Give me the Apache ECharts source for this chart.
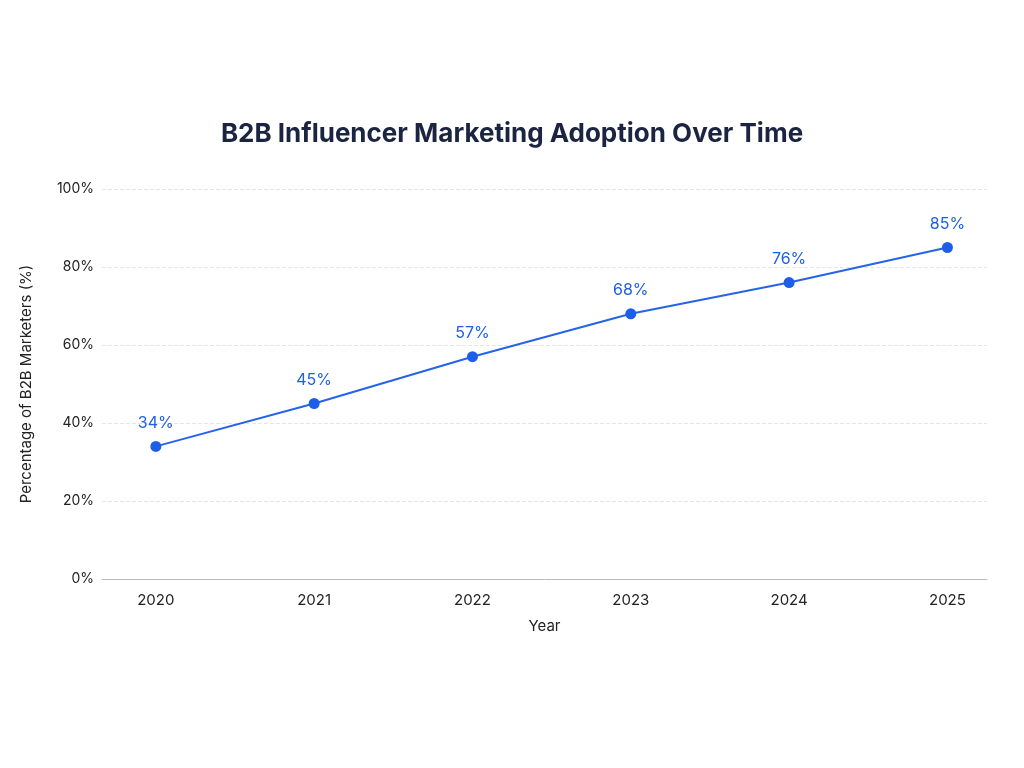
<!DOCTYPE html>
<html>
<head>
<meta charset="utf-8">
<script src="https://cdn.jsdelivr.net/npm/echarts@6/dist/echarts.min.js"></script>
<style>html,body{margin:0;background:#fff}#main{width:1024px;height:768px}</style>
</head>
<body>
<div id="main"></div>
<script>
var years = [2020, 2021, 2022, 2023, 2024, 2025];
var adoption = [34, 45, 57, 68, 76, 85];
var yTicks = [0, 20, 40, 60, 80, 100];

var chart = echarts.init(document.getElementById('main'));
chart.setOption({
    backgroundColor: '#ffffff',
    animation: false,
    textStyle: { fontFamily: 'Inter, "Noto Sans", sans-serif' },
    title: {
        text: 'B2B Influencer Marketing Adoption Over Time',
        left: 'center',
        top: 116,
        textStyle: { fontSize: 26, fontWeight: 'bold', color: '#1b2440', fontFamily: 'Inter, sans-serif' }
    },
    grid: { left: 102, right: 37, top: 189, bottom: 189 },
    xAxis: {
        type: 'value',
        min: 2019.66,
        max: 2025.25,
        name: 'Year',
        nameLocation: 'middle',
        nameGap: 40,
        nameTextStyle: { fontSize: 15, color: '#222' },
        axisLine: { show: true, lineStyle: { color: '#bbbbbb' } },
        axisTick: { show: false },
        splitLine: { show: false },
        axisLabel: {
            customValues: years,
            formatter: function (v) { return String(v); },
            fontSize: 15, color: '#222', margin: 14
        }
    },
    yAxis: {
        type: 'value',
        min: 0,
        max: 100,
        interval: 20,
        name: 'Percentage of B2B Marketers (%)',
        nameLocation: 'middle',
        nameGap: 68,
        nameTextStyle: { fontSize: 15, color: '#222' },
        axisLine: { show: false },
        axisTick: { show: false },
        axisLabel: { formatter: '{value}%', fontSize: 14, color: '#222' },
        splitLine: { lineStyle: { color: '#e6e6e6', type: 'dashed' } }
    },
    series: [{
        type: 'line',
        data: years.map(function (y, i) { return [y, adoption[i]]; }),
        symbol: 'circle',
        symbolSize: 11,
        lineStyle: { color: '#2563eb', width: 2 },
        itemStyle: { color: '#1d5ee8' },
        label: {
            show: true,
            position: 'top',
            distance: 10,
            formatter: function (p) { return p.value[1] + '%'; },
            fontSize: 16,
            color: '#1d5ee8'
        }
    }]
});
</script>
</body>
</html>
